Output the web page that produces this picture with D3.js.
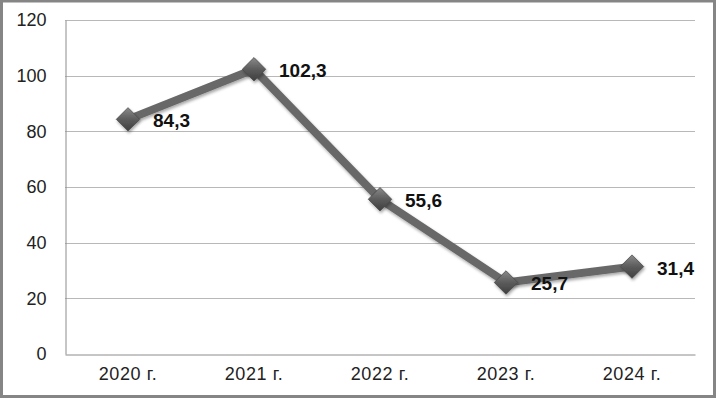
<!DOCTYPE html>
<html>
<head>
<meta charset="utf-8">
<script src="https://cdn.jsdelivr.net/npm/d3@7"></script>
<style>
  body { margin: 0; background: #fff; }
  svg { display: block; }
</style>
</head>
<body>
<div id="chart-area"></div>
<script>
const years = ["2020 г.", "2021 г.", "2022 г.", "2023 г.", "2024 г."];
const values = [84.3, 102.3, 55.6, 25.7, 31.4];
const yTicks = [0, 20, 40, 60, 80, 100, 120];

const width = 717;
const height = 399;
const margin = {top: 20, right: 22, bottom: 45, left: 65};

var svg = d3.select("#chart-area").append("svg")
	.attr("width", width)
	.attr("height", height);

// drop shadow for the line and markers
var defs = svg.append("defs");
var f = defs.append("filter").attr("id", "shadow")
	.attr("x", "-30%").attr("y", "-30%").attr("width", "160%").attr("height", "160%");
f.append("feDropShadow")
	.attr("dx", 1).attr("dy", 2).attr("stdDeviation", 1.8)
	.attr("flood-color", "#000").attr("flood-opacity", 0.35);

var grad = defs.append("linearGradient").attr("id", "mk")
	.attr("x1", 0).attr("y1", 0).attr("x2", 0).attr("y2", 1);
grad.append("stop").attr("offset", "0%").attr("stop-color", "#8a8a8a");
grad.append("stop").attr("offset", "50%").attr("stop-color", "#5c5c5c");
grad.append("stop").attr("offset", "100%").attr("stop-color", "#3e3e3e");

// outer frame
svg.append("rect")
	.attr("x", 1.5).attr("y", 1)
	.attr("width", width - 4).attr("height", height - 3.5)
	.attr("fill", "none")
	.attr("stroke", "#858585")
	.attr("stroke-width", 3);

var x = d3.scaleBand()
	.domain(years)
	.range([margin.left, width - margin.right]);

var y = d3.scaleLinear()
	.domain([0, 120])
	.range([height - margin.bottom, margin.top]);

// gridlines
svg.append("g")
	.selectAll("line")
	.data(yTicks.filter(d => d > 0))
	.enter().append("line")
	.attr("x1", margin.left)
	.attr("x2", width - margin.right)
	.attr("y1", d => Math.round(y(d)) + 0.5)
	.attr("y2", d => Math.round(y(d)) + 0.5)
	.attr("stroke", "#b8b8b8")
	.attr("stroke-width", 1);

// y axis
var yAxis = svg.append("g")
	.attr("transform", `translate(${margin.left + 0.5},0)`)
	.call(d3.axisLeft(y).tickValues(yTicks).tickSize(0).tickPadding(19));
yAxis.select(".domain").attr("stroke", "#8c8c8c");
yAxis.selectAll("text")
	.attr("font-family", "'Liberation Sans', Arial, sans-serif")
	.attr("font-size", 18)
	.attr("fill", "#222");

// x axis
var xAxis = svg.append("g")
	.attr("transform", `translate(0,${Math.round(y(0)) + 0.5})`)
	.call(d3.axisBottom(x).tickSize(0).tickPadding(13));
xAxis.select(".domain").attr("stroke", "#8c8c8c");
xAxis.selectAll("text")
	.attr("font-family", "'Liberation Sans', Arial, sans-serif")
	.attr("font-size", 18)
	.attr("letter-spacing", 0.6)
	.attr("fill", "#222");

var cx = (d, i) => x(years[i]) + x.bandwidth() / 2;

var line = d3.line()
	.x((d, i) => cx(d, i))
	.y(d => y(d));

svg.append("path")
	.datum(values)
	.attr("fill", "none")
	.attr("stroke", "#676767")
	.attr("stroke-width", 8)
	.attr("stroke-linejoin", "round")
	.attr("filter", "url(#shadow)")
	.attr("d", line);

svg.selectAll(".dot")
	.data(values)
	.enter().append("path")
	.attr("class", "dot")
	.attr("d", d3.symbol().type(d3.symbolDiamond2).size(350))
	.attr("transform", (d, i) => `translate(${cx(d, i)},${y(d)})`)
	.attr("fill", "url(#mk)")
	.attr("stroke", "#4a4a4a")
	.attr("stroke-width", 0.8)
	.attr("filter", "url(#shadow)");

svg.selectAll(".lbl")
	.data(values)
	.enter().append("text")
	.attr("class", "lbl")
	.attr("x", (d, i) => cx(d, i) + 25)
	.attr("y", d => y(d) + 8)
	.attr("font-family", "'Liberation Sans', Arial, sans-serif")
	.attr("font-size", 19)
	.attr("font-weight", "bold")
	.attr("fill", "#111")
	.text(d => String(d).replace(".", ","));
</script>
</body>
</html>
